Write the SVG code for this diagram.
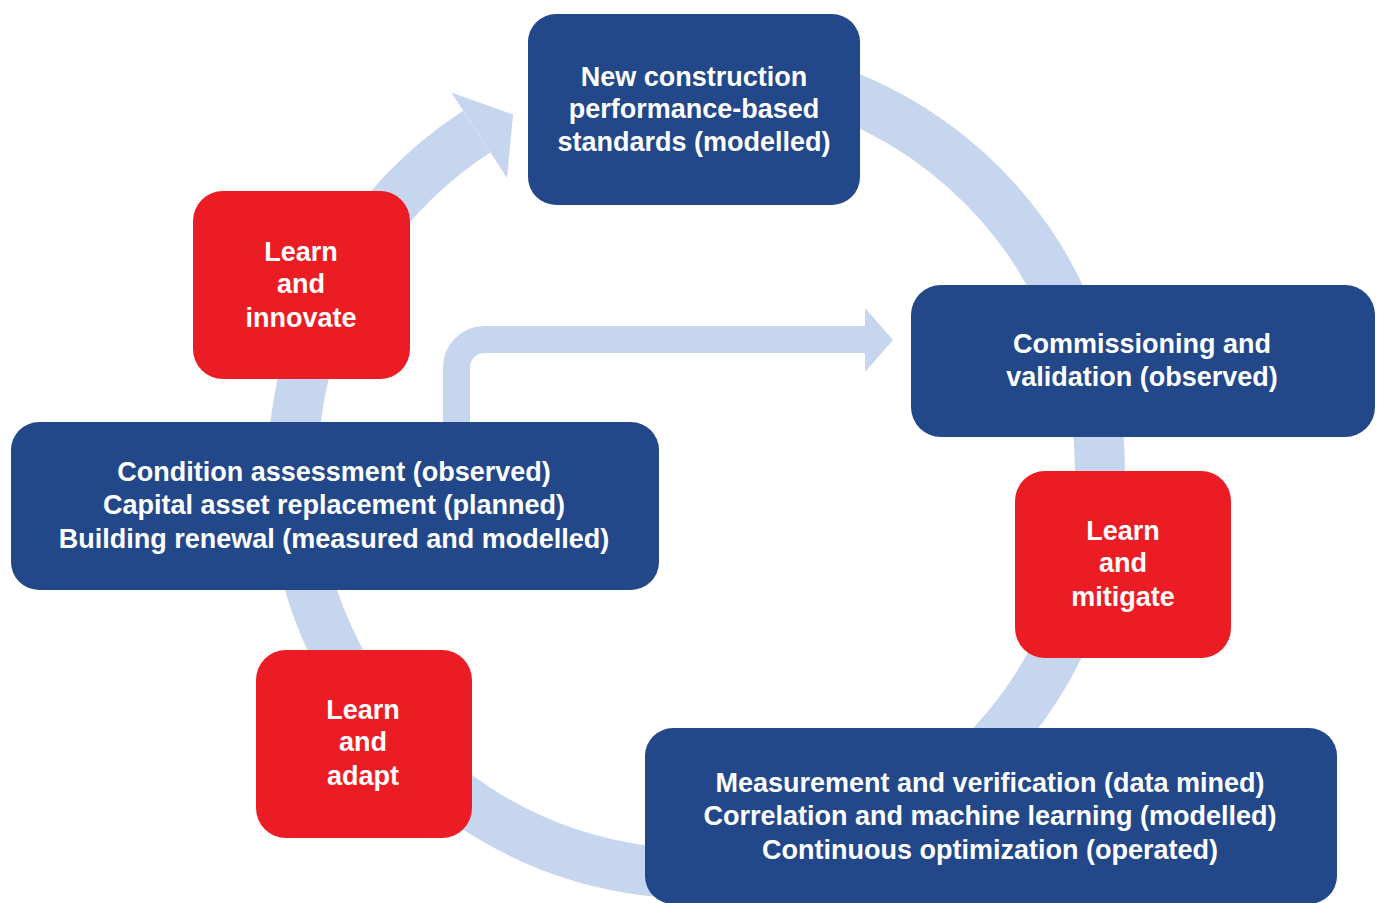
<svg xmlns="http://www.w3.org/2000/svg" width="1377" height="903" viewBox="0 0 1377 903">
<style>
.bg{fill:#ffffff}
.ring{fill:none;stroke:#C6D6EF;stroke-width:50;stroke-linecap:butt}
.elbow{fill:none;stroke:#C6D6EF;stroke-width:27;stroke-linecap:butt}
.head{fill:#C6D6EF}
.blue{fill:#22488A}
.red{fill:#EC1C24}
.t{fill:#ffffff;font-family:"Liberation Sans",Arial,sans-serif;font-weight:bold;font-size:27px;text-anchor:middle}
</style>
<rect class="bg" x="0" y="0" width="1377" height="903"/>
<g id="connectors">
  <path class="ring" d="M592.1,80.3 A403.5,403.5 0 1 1 476.7,131.6"/>
  <polygon class="head" points="451.4,92.6 513.1,114.6 507.0,178.1"/>
  <path class="elbow" d="M456.5,430 L456.5,368 A28,28 0 0 1 484.5,339.5 L866,339.5"/>
  <polygon class="head" points="865,308 893,340 865,372"/>
</g>
<g id="node-new-construction">
  <rect class="blue" x="528" y="14" width="332" height="191" rx="28"/>
  <text class="t" x="694" y="86">New construction</text>
  <text class="t" x="694" y="118">performance-based</text>
  <text class="t" x="694" y="151">standards (modelled)</text>
</g>
<g id="node-learn-innovate">
  <rect class="red" x="193" y="191" width="217" height="188" rx="30"/>
  <text class="t" x="301" y="261">Learn</text>
  <text class="t" x="301" y="293">and</text>
  <text class="t" x="301" y="327">innovate</text>
</g>
<g id="node-commissioning">
  <rect class="blue" x="911" y="285" width="464" height="152" rx="30"/>
  <text class="t" x="1142" y="353">Commissioning and</text>
  <text class="t" x="1142" y="386">validation (observed)</text>
</g>
<g id="node-condition">
  <rect class="blue" x="11" y="422" width="648" height="168" rx="28"/>
  <text class="t" x="334" y="481">Condition assessment (observed)</text>
  <text class="t" x="334" y="514">Capital asset replacement (planned)</text>
  <text class="t" x="334" y="548">Building renewal (measured and modelled)</text>
</g>
<g id="node-learn-mitigate">
  <rect class="red" x="1015" y="471" width="216" height="187" rx="30"/>
  <text class="t" x="1123" y="540">Learn</text>
  <text class="t" x="1123" y="572">and</text>
  <text class="t" x="1123" y="606">mitigate</text>
</g>
<g id="node-learn-adapt">
  <rect class="red" x="256" y="650" width="216" height="188" rx="30"/>
  <text class="t" x="363" y="719">Learn</text>
  <text class="t" x="363" y="751">and</text>
  <text class="t" x="363" y="785">adapt</text>
</g>
<g id="node-measurement">
  <rect class="blue" x="645" y="728" width="692" height="176" rx="28"/>
  <text class="t" x="990" y="792">Measurement and verification (data mined)</text>
  <text class="t" x="990" y="825">Correlation and machine learning (modelled)</text>
  <text class="t" x="990" y="859">Continuous optimization (operated)</text>
</g>
</svg>
